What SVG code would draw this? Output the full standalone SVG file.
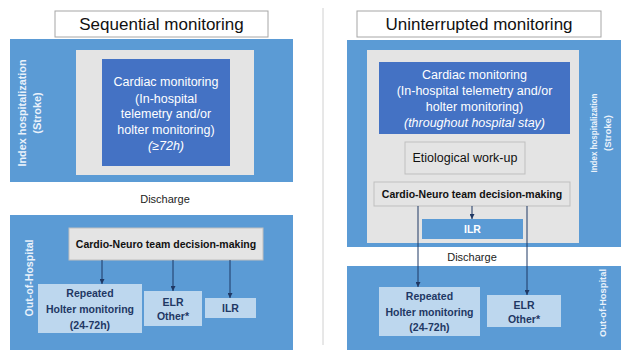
<svg xmlns="http://www.w3.org/2000/svg" width="621" height="350" viewBox="0 0 621 350">
<defs>
<style>
text{font-family:"Liberation Sans","Open Sans",Arial,sans-serif;}
.title{font-size:17px;fill:#111;text-anchor:middle;}
.titlebox{fill:#fff;stroke:#a6a6a6;stroke-width:1;}
.outer{fill:#5b9bd5;}
.grey{fill:#e4e4e4;}
.dark{fill:#4472c4;}
.wt{fill:#fff;font-size:12.5px;text-anchor:middle;}
.side{fill:#eaf2fb;font-size:11px;font-weight:bold;text-anchor:middle;}
.sider{fill:#eaf2fb;font-size:9.5px;font-weight:bold;text-anchor:middle;}
.dec{fill:#e4e4e4;stroke:#bfbfbf;stroke-width:1;}
.dect{fill:#111;font-size:10.5px;font-weight:bold;text-anchor:middle;}
.lb{fill:#bdd7ee;}
.lbt{fill:#1f3864;font-size:10.5px;font-weight:bold;text-anchor:middle;}
.dis{fill:#222;font-size:11px;text-anchor:middle;}
.conn line{stroke:#1f3864;stroke-width:1;marker-end:url(#ah);}
</style>
<marker id="ah" viewBox="0 0 6 6" refX="6" refY="3" markerWidth="5" markerHeight="5" orient="auto">
<path d="M0,0 L6,3 L0,6 z" fill="#1f3864"/>
</marker>
</defs>
<rect width="621" height="350" fill="#fff"/>
<line x1="323" y1="8" x2="323" y2="345" stroke="#d0d0d0" stroke-width="1"/>

<!-- Left panel -->
<g id="title-left"><rect class="titlebox" x="55" y="11" width="213" height="26"/><text class="title" x="161.5" y="30">Sequential monitoring</text></g>
<g id="index-left"><rect class="outer" x="10" y="39" width="283" height="143"/>
<text class="side" transform="translate(26,113) rotate(-90)" textLength="107" lengthAdjust="spacingAndGlyphs">Index hospitalization</text>
<text class="side" transform="translate(41,113) rotate(-90)">(Stroke)</text></g>
<rect class="grey" x="76" y="50" width="178" height="125"/>
<g id="cardiac-left"><rect class="dark" x="102" y="59" width="128" height="107"/>
<text class="wt" x="166" y="86">Cardiac monitoring</text>
<text class="wt" x="166" y="103">(In-hospital</text>
<text class="wt" x="166" y="118">telemetry and/or</text>
<text class="wt" x="166" y="134">holter monitoring)</text>
<text class="wt" x="166" y="150" font-style="italic">(≥72h)</text></g>
<text class="dis" x="165" y="203">Discharge</text>
<g id="out-left"><rect class="outer" x="10" y="215" width="283" height="135"/>
<text class="side" transform="translate(33,278) rotate(-90)" textLength="77" lengthAdjust="spacingAndGlyphs">Out-of-Hospital</text></g>
<g id="decision-left"><rect class="dec" x="69" y="228" width="194" height="32"/><text class="dect" x="166" y="248">Cardio-Neuro team decision-making</text></g>
<g id="holter-left"><rect class="lb" x="38" y="284" width="104" height="49"/>
<text class="lbt" x="90" y="297">Repeated</text><text class="lbt" x="90" y="313">Holter monitoring</text><text class="lbt" x="90" y="329">(24-72h)</text></g>
<g id="elr-left"><rect class="lb" x="144" y="291" width="58" height="35"/>
<text class="lbt" x="173" y="306">ELR</text><text class="lbt" x="173" y="320">Other*</text></g>
<g id="ilr-left"><rect class="lb" x="205" y="298" width="51" height="20"/><text class="lbt" x="230.5" y="312">ILR</text></g>

<!-- Right panel -->
<g id="title-right"><rect class="titlebox" x="357" y="11" width="244" height="26"/><text class="title" x="479" y="30">Uninterrupted monitoring</text></g>
<g id="index-right"><rect class="outer" x="347" y="40" width="274" height="207"/>
<text class="sider" transform="translate(597,133) rotate(-90)" textLength="79" lengthAdjust="spacingAndGlyphs">Index hospitalization</text>
<text class="sider" transform="translate(611,133) rotate(-90)">(Stroke)</text></g>
<rect class="grey" x="367" y="50" width="212" height="193"/>
<g id="cardiac-right"><rect class="dark" x="379" y="62" width="191" height="72"/>
<text class="wt" x="474.5" y="79">Cardiac monitoring</text>
<text class="wt" x="474.5" y="95">(In-hospital telemetry and/or</text>
<text class="wt" x="474.5" y="111">holter monitoring)</text>
<text class="wt" x="474.5" y="127" font-style="italic">(throughout hospital stay)</text></g>
<g id="etiology"><rect class="dec" x="405" y="142" width="120" height="32"/><text x="465" y="162" font-size="12.5" fill="#111" text-anchor="middle">Etiological work-up</text></g>
<g id="decision-right"><rect class="dec" x="374" y="182" width="196" height="24"/><text class="dect" x="472" y="198">Cardio-Neuro team decision-making</text></g>
<g id="ilr-right"><rect class="outer" x="422" y="219" width="101" height="20"/><text x="472.5" y="233" font-size="10.5" font-weight="bold" fill="#fff" text-anchor="middle">ILR</text></g>
<text class="dis" x="472" y="261" font-size="12">Discharge</text>
<g id="out-right"><rect class="outer" x="347" y="266" width="274" height="84"/>
<text class="sider" transform="translate(606,303) rotate(-90)" textLength="68" lengthAdjust="spacingAndGlyphs">Out-of-Hospital</text></g>
<g id="holter-right"><rect class="lb" x="379" y="287" width="101" height="49"/>
<text class="lbt" x="429.5" y="300">Repeated</text><text class="lbt" x="429.5" y="316">Holter monitoring</text><text class="lbt" x="429.5" y="331">(24-72h)</text></g>
<g id="elr-right"><rect class="lb" x="487" y="295" width="74" height="32"/>
<text class="lbt" x="524" y="309">ELR</text><text class="lbt" x="524" y="323">Other*</text></g>

<g id="connectors" class="conn">
<line x1="102" y1="260" x2="102" y2="284"/>
<line x1="173" y1="260" x2="173" y2="291"/>
<line x1="230" y1="260" x2="230" y2="298"/>
<line x1="472" y1="206" x2="472" y2="219"/>
<line x1="418" y1="206" x2="418" y2="287"/>
<line x1="527" y1="206" x2="527" y2="295"/>
</g>
</svg>
